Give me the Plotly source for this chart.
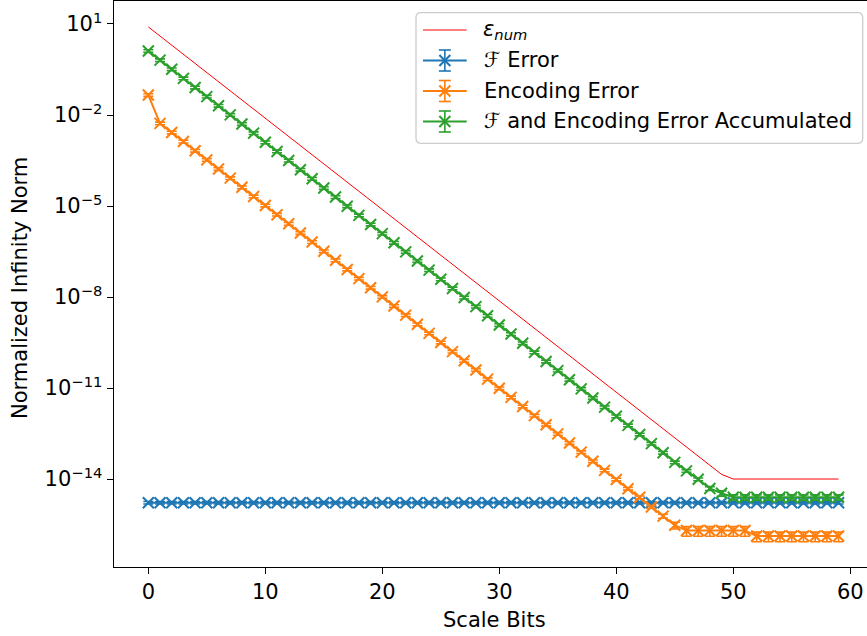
import plotly.graph_objects as go

# ---- data -------------------------------------------------------------
scale_bits = list(range(60))

eps_num = [
    8.0, 4.0, 2.0, 1.0, 0.5, 0.25, 0.125, 6.25e-2, 3.13e-2, 1.56e-2,
    7.81e-3, 3.91e-3, 1.95e-3, 9.77e-4, 4.88e-4, 2.44e-4, 1.22e-4, 6.10e-5, 3.05e-5, 1.53e-5,
    7.63e-6, 3.81e-6, 1.91e-6, 9.54e-7, 4.77e-7, 2.38e-7, 1.19e-7, 5.96e-8, 2.98e-8, 1.49e-8,
    7.45e-9, 3.73e-9, 1.86e-9, 9.31e-10, 4.66e-10, 2.33e-10, 1.16e-10, 5.82e-11, 2.91e-11, 1.46e-11,
    7.28e-12, 3.64e-12, 1.82e-12, 9.09e-13, 4.55e-13, 2.27e-13, 1.14e-13, 5.68e-14, 2.84e-14, 1.42e-14,
    1.0e-14, 1.0e-14, 1.0e-14, 1.0e-14, 1.0e-14, 1.0e-14, 1.0e-14, 1.0e-14, 1.0e-14, 1.0e-14,
]

f_error = [
    1.66e-15, 1.66e-15, 1.66e-15, 1.66e-15, 1.66e-15, 1.66e-15, 1.66e-15, 1.66e-15, 1.66e-15, 1.66e-15,
    1.66e-15, 1.66e-15, 1.66e-15, 1.66e-15, 1.66e-15, 1.66e-15, 1.66e-15, 1.66e-15, 1.66e-15, 1.66e-15,
    1.66e-15, 1.66e-15, 1.66e-15, 1.66e-15, 1.66e-15, 1.66e-15, 1.66e-15, 1.66e-15, 1.66e-15, 1.66e-15,
    1.66e-15, 1.66e-15, 1.66e-15, 1.66e-15, 1.66e-15, 1.66e-15, 1.66e-15, 1.66e-15, 1.66e-15, 1.66e-15,
    1.66e-15, 1.66e-15, 1.66e-15, 1.66e-15, 1.66e-15, 1.66e-15, 1.66e-15, 1.66e-15, 1.66e-15, 1.66e-15,
    1.66e-15, 1.66e-15, 1.66e-15, 1.66e-15, 1.66e-15, 1.66e-15, 1.66e-15, 1.66e-15, 1.66e-15, 1.66e-15,
]

encoding_error = [
    4.56e-2, 5.30e-3, 2.65e-3, 1.33e-3, 6.63e-4, 3.31e-4, 1.66e-4, 8.28e-5, 4.14e-5, 2.07e-5,
    1.04e-5, 5.18e-6, 2.59e-6, 1.29e-6, 6.47e-7, 3.23e-7, 1.62e-7, 8.09e-8, 4.04e-8, 2.02e-8,
    1.01e-8, 5.05e-9, 2.53e-9, 1.26e-9, 6.32e-10, 3.16e-10, 1.58e-10, 7.90e-11, 3.95e-11, 1.97e-11,
    9.87e-12, 4.93e-12, 2.47e-12, 1.23e-12, 6.17e-13, 3.08e-13, 1.54e-13, 7.71e-14, 3.86e-14, 1.93e-14,
    9.64e-15, 4.80e-15, 2.50e-15, 1.20e-15, 6.00e-16, 3.00e-16, 2.00e-16, 2.00e-16, 2.00e-16, 2.00e-16,
    2.00e-16, 2.00e-16, 1.32e-16, 1.32e-16, 1.32e-16, 1.32e-16, 1.32e-16, 1.32e-16, 1.32e-16, 1.32e-16,
]

accumulated_error = [
    1.29, 6.45e-1, 3.23e-1, 1.61e-1, 8.06e-2, 4.03e-2, 2.02e-2, 1.01e-2, 5.04e-3, 2.52e-3,
    1.26e-3, 6.30e-4, 3.15e-4, 1.57e-4, 7.87e-5, 3.94e-5, 1.97e-5, 9.84e-6, 4.92e-6, 2.46e-6,
    1.23e-6, 6.15e-7, 3.08e-7, 1.54e-7, 7.69e-8, 3.84e-8, 1.92e-8, 9.61e-9, 4.81e-9, 2.40e-9,
    1.20e-9, 6.01e-10, 3.00e-10, 1.50e-10, 7.51e-11, 3.75e-11, 1.88e-11, 9.39e-12, 4.69e-12, 2.35e-12,
    1.17e-12, 5.87e-13, 2.93e-13, 1.47e-13, 7.33e-14, 3.55e-14, 1.86e-14, 9.80e-15, 4.90e-15, 3.40e-15,
    2.50e-15, 2.50e-15, 2.50e-15, 2.50e-15, 2.50e-15, 2.50e-15, 2.50e-15, 2.50e-15, 2.50e-15, 2.50e-15,
]

# spread of each measurement, in percent of the plotted value
f_error_spread_pct = [
    10, 10, 10, 10, 10, 10, 10, 10, 10, 10, 10, 10, 10, 10, 10, 10, 10, 10, 10, 10,
    10, 10, 10, 10, 10, 10, 10, 10, 10, 10, 10, 10, 10, 10, 10, 10, 10, 10, 10, 10,
    10, 10, 10, 10, 10, 10, 10, 10, 10, 10, 10, 10, 10, 10, 10, 10, 10, 10, 10, 10,
]
encoding_spread_pct = [
    10, 10, 10, 10, 10, 10, 10, 10, 10, 10, 10, 10, 10, 10, 10, 10, 10, 10, 10, 10,
    10, 10, 10, 10, 10, 10, 10, 10, 10, 10, 10, 10, 10, 10, 10, 10, 10, 10, 10, 10,
    10, 10, 10, 10, 15, 25, 35, 35, 35, 35, 35, 35, 35, 35, 35, 35, 35, 35, 35, 35,
]
accumulated_spread_pct = [
    10, 10, 10, 10, 10, 10, 10, 10, 10, 10, 10, 10, 10, 10, 10, 10, 10, 10, 10, 10,
    10, 10, 10, 10, 10, 10, 10, 10, 10, 10, 10, 10, 10, 10, 10, 10, 10, 10, 10, 10,
    10, 10, 10, 10, 10, 10, 10, 10, 15, 20, 20, 20, 20, 20, 20, 20, 20, 20, 20, 20,
]

x_ticks = [0, 10, 20, 30, 40, 50, 60]
y_tick_vals = [1e1, 1e-2, 1e-5, 1e-8, 1e-11, 1e-14]
y_tick_text = ["10<sup>1</sup>", "10<sup>\u22122</sup>", "10<sup>\u22125</sup>",
               "10<sup>\u22128</sup>", "10<sup>\u221211</sup>", "10<sup>\u221214</sup>"]

legend_labels = [
    "<i>\u03b5</i><sub><i>num</i></sub>",
    "<i>\u2131</i> Error",
    "Encoding Error",
    "<i>\u2131</i> and Encoding Error Accumulated",
]

# ---- styling ----------------------------------------------------------
W, H = 867, 636
FONT = "DejaVu Sans"
FS = 21
BLUE, ORANGE, GREEN, RED = "#1f77b4", "#ff7f0e", "#2ca02c", "#ff0000"

def px(x):
    return x / W

def py(y):
    return 1 - y / H


def err_bars(values, pct, color):
    return dict(type="data", array=[v * p / 100 for v, p in zip(values, pct)],
                color=color, thickness=1.6, width=5, visible=True)


def marker(color):
    return dict(symbol="x-thin", size=11, color=color, line=dict(width=2, color=color))


fig = go.Figure()
fig.add_trace(go.Scatter(x=scale_bits, y=eps_num, mode="lines",
                         line=dict(color=RED, width=1), showlegend=False))
fig.add_trace(go.Scatter(x=scale_bits, y=f_error, mode="lines+markers",
                         line=dict(color=BLUE, width=2), marker=marker(BLUE),
                         error_y=err_bars(f_error, f_error_spread_pct, BLUE), showlegend=False))
fig.add_trace(go.Scatter(x=scale_bits, y=encoding_error, mode="lines+markers",
                         line=dict(color=ORANGE, width=2), marker=marker(ORANGE),
                         error_y=err_bars(encoding_error, encoding_spread_pct, ORANGE), showlegend=False))
fig.add_trace(go.Scatter(x=scale_bits, y=accumulated_error, mode="lines+markers",
                         line=dict(color=GREEN, width=2), marker=marker(GREEN),
                         error_y=err_bars(accumulated_error, accumulated_spread_pct, GREEN), showlegend=False))

# ---- legend box drawn with shapes ------------------------------------
shapes = []
annotations = []
lx0, ly0, lx1, ly1, r = 416, 12.7, 862.7, 143.3, 5
path = (f"M {px(lx0 + r)},{py(ly0)} L {px(lx1 - r)},{py(ly0)} "
        f"Q {px(lx1)},{py(ly0)} {px(lx1)},{py(ly0 + r)} "
        f"L {px(lx1)},{py(ly1 - r)} Q {px(lx1)},{py(ly1)} {px(lx1 - r)},{py(ly1)} "
        f"L {px(lx0 + r)},{py(ly1)} Q {px(lx0)},{py(ly1)} {px(lx0)},{py(ly1 - r)} "
        f"L {px(lx0)},{py(ly0 + r)} Q {px(lx0)},{py(ly0)} {px(lx0 + r)},{py(ly0)} Z")
shapes.append(dict(type="path", path=path, xref="paper", yref="paper",
                   line=dict(color="#cccccc", width=1.3), fillcolor="rgba(255,255,255,0.8)"))

row_y = [30.0, 60.5, 91.0, 121.5]
row_colors = [RED, BLUE, ORANGE, GREEN]
sym_x0, sym_x1 = 423, 466.7
sym_c = (sym_x0 + sym_x1) / 2
for i, (yy, col, lab) in enumerate(zip(row_y, row_colors, legend_labels)):
    shapes.append(dict(type="line", xref="paper", yref="paper",
                       x0=px(sym_x0), x1=px(sym_x1), y0=py(yy), y1=py(yy),
                       line=dict(color=col, width=1 if i == 0 else 2)))
    if i > 0:
        # error bar glyph
        shapes.append(dict(type="line", xref="paper", yref="paper",
                           x0=px(sym_c), x1=px(sym_c), y0=py(yy - 10.5), y1=py(yy + 10.5),
                           line=dict(color=col, width=1.6)))
        for cy in (yy - 10.5, yy + 10.5):
            shapes.append(dict(type="line", xref="paper", yref="paper",
                               x0=px(sym_c - 6), x1=px(sym_c + 6), y0=py(cy), y1=py(cy),
                               line=dict(color=col, width=1.6)))
        # x marker glyph
        for dy in (-5.5, 5.5):
            shapes.append(dict(type="line", xref="paper", yref="paper",
                               x0=px(sym_c - 5.5), x1=px(sym_c + 5.5),
                               y0=py(yy - dy), y1=py(yy + dy),
                               line=dict(color=col, width=2)))
    annotations.append(dict(text=lab, x=px(481.5), y=py(yy), xref="paper", yref="paper",
                            xanchor="left", yanchor="middle", showarrow=False,
                            font=dict(family=FONT, size=FS, color="black")))

# axis titles
annotations.append(dict(text="Scale Bits", x=px(494), y=py(620), xref="paper", yref="paper",
                        xanchor="center", yanchor="middle", showarrow=False,
                        font=dict(family=FONT, size=FS, color="black")))
annotations.append(dict(text="Normalized Infinity Norm", x=px(20), y=py(288), xref="paper",
                        yref="paper", xanchor="center", yanchor="middle", textangle=-90,
                        showarrow=False, font=dict(family=FONT, size=FS, color="black")))

fig.update_layout(
    width=W, height=H,
    margin=dict(l=0, r=0, t=0, b=0),
    paper_bgcolor="white", plot_bgcolor="white",
    font=dict(family=FONT, size=FS, color="black"),
    showlegend=False,
    shapes=shapes,
    annotations=annotations,
    xaxis=dict(domain=[px(113.7), 1.0], range=[-2.96, 61.43],
               tickvals=x_ticks, ticks="outside", ticklen=6, tickwidth=1.3,
               tickcolor="black", showline=True, linecolor="black", linewidth=1.3,
               mirror=True, showgrid=False, zeroline=False,
               tickfont=dict(family=FONT, size=FS, color="black")),
    yaxis=dict(domain=[py(567), py(1)], type="log", range=[-16.90, 1.758],
               tickvals=y_tick_vals, ticktext=y_tick_text, ticks="outside",
               ticklen=6, tickwidth=1.3, tickcolor="black", showline=True,
               linecolor="black", linewidth=1.3, showgrid=False, zeroline=False,
               tickfont=dict(family=FONT, size=FS, color="black")),
)

fig.write_html("out.html")
